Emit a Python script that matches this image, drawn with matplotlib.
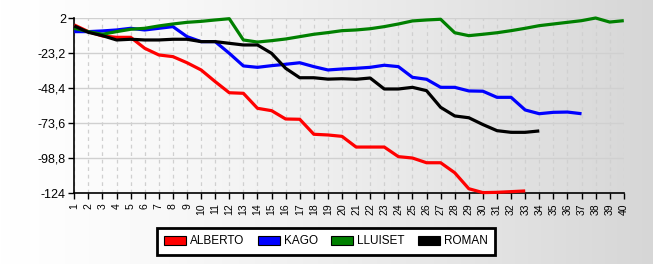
import numpy as np
import matplotlib
matplotlib.use("Agg")
import matplotlib.pyplot as plt
from matplotlib.patches import Patch

plt.rcParams['font.family'] = ['Liberation Sans', 'DejaVu Sans']

rounds = list(range(1, 41))
x_labels = [str(i) for i in rounds]
y_ticks = [2, -23.2, -48.4, -73.6, -98.8, -124]
y_labels = ["2", "-23,2", "-48,4", "-73,6", "-98,8", "-124"]

names = ["ALBERTO", "KAGO", "LLUISET", "ROMAN"]
colors = ["#ff0000", "#0000ff", "#008000", "#000000"]

alberto = [-2.8, -7.6, -10.7, -11.7, -11.7, -19.6, -24.4, -25.6, -30, -35.2,
           -43.6, -51.6, -52, -62.8, -64.5, -70.5, -70.7, -81.5, -82, -83,
           -90.7, -90.7, -90.7, -97.6, -98.6, -102, -102, -109.2, -120.7, -123.5,
           -123.3, -122.8, -122.3]
kago = [-7.6, -7.6, -7.1, -6.4, -5.2, -6.4, -5.2, -4, -11.2, -14.8,
        -14.8, -23.2, -32.3, -33.3, -32.1, -31.1, -30, -32.8, -35.2, -34.5,
        -34, -33.3, -31.8, -32.8, -40.5, -41.9, -47.7, -47.7, -50.3, -50.5,
        -54.9, -54.9, -64, -66.7, -65.7, -65.5, -66.7]
lluiset = [-5.2, -7.6, -9.5, -7.6, -5.9, -5.2, -3.5, -2.1, -0.9, -0.2,
           0.8, 1.7, -13.6, -15.1, -14.1, -12.9, -11.2, -9.5, -8.3, -6.9,
           -6.4, -5.5, -4, -2.1, 0.1, 0.8, 1.3, -8.4, -10.5, -9.5,
           -8.4, -6.9, -5.2, -3.3, -2.1, -0.9, 0.3, 2.2, -0.7, 0.3]
roman = [-3.5, -8.1, -10.5, -13.6, -13.1, -13.6, -13.6, -13.1, -13.1, -14.8,
         -14.8, -16, -17.2, -17.2, -23.2, -34, -40.8, -40.8, -41.8, -41.5,
         -41.9, -41, -48.9, -48.9, -47.7, -50.1, -62.1, -68.3, -69.6, -74.5,
         -78.9, -80.1, -80.1, -79.1]
series = [alberto, kago, lluiset, roman]

fig = plt.figure(figsize=(6.53, 2.64), dpi=100)

# gradient background
bg = fig.add_axes([0, 0, 1, 1], zorder=-10)
grad = np.linspace(0, 1, 256)
g = 1.0 - 0.16 * grad ** 1.3
img = np.stack([g, g, g], axis=-1)[None, :, :].repeat(2, axis=0)
bg.imshow(img, aspect='auto', extent=[0, 1, 0, 1])
bg.set_axis_off()

ax = fig.add_axes([74.3 / 653, 1 - 193.3 / 264, (623.8 - 74.3) / 653, (193.3 - 18.3) / 264])
ax.set_facecolor('none')

for vals, c in zip(series, colors):
    ax.plot(rounds[:len(vals)], vals, color=c, lw=2.3, solid_joinstyle='round',
            solid_capstyle='butt', zorder=3, clip_on=False)

ax.set_xlim(1, 40)
ax.set_ylim(-124, 2)
ax.set_xticks(rounds)
ax.set_xticklabels(x_labels, rotation=90, fontsize=7.5)
ax.set_yticks(y_ticks)
ax.set_yticklabels(y_labels, fontsize=9)
ax.tick_params(axis='both', direction='out', length=4, width=1, color='black', pad=2)
ax.tick_params(axis='x', pad=3)

ax.grid(axis='y', color='#d0d0d0', lw=1, ls='-', zorder=0)
ax.grid(axis='x', color='#d0d0d0', lw=0.9, ls=(0, (3, 3)), zorder=0)
ax.set_axisbelow(True)

for s in ['top', 'right']:
    ax.spines[s].set_visible(False)
for s in ['left', 'bottom']:
    ax.spines[s].set_color('black')
    ax.spines[s].set_linewidth(1.2)

handles = [Patch(facecolor=c, edgecolor='black', lw=0.8) for c in colors]
leg = fig.legend(handles, names, loc='center', bbox_to_anchor=(326 / 653, 1 - 241.5 / 264),
                 ncol=4, frameon=True, fancybox=False,
                 handlelength=1.85, handleheight=0.85, handletextpad=0.35,
                 columnspacing=1.15, borderpad=0.6, borderaxespad=0,
                 prop={'family': ['Liberation Sans'], 'size': 8.5})
leg.get_frame().set_edgecolor('black')
leg.get_frame().set_linewidth(2)
leg.get_frame().set_facecolor('white')
leg.get_frame().set_alpha(1)

fig.savefig('out.png', dpi=100)
